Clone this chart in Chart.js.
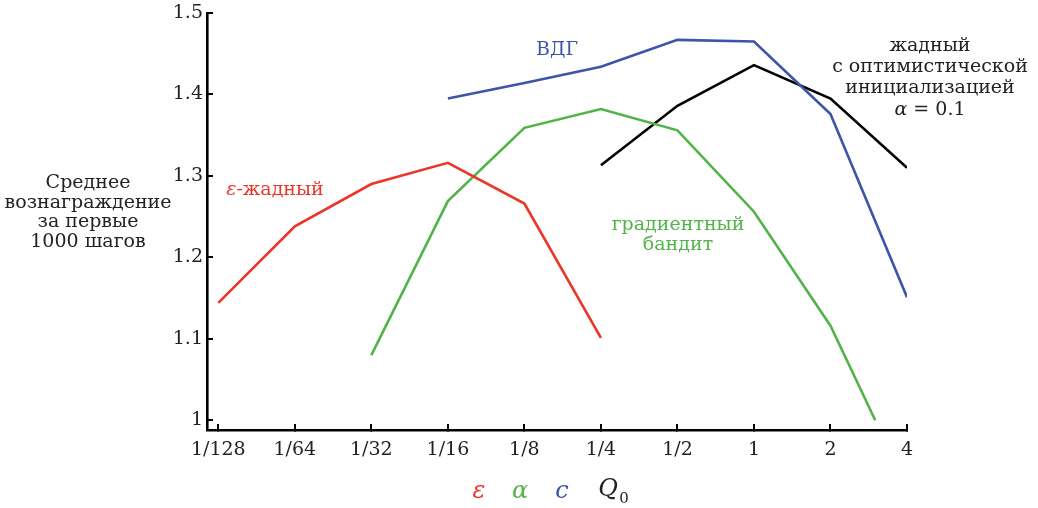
<!DOCTYPE html>
<html>
<head>
<meta charset="utf-8">
<script src="https://cdn.jsdelivr.net/npm/chart.js@4.4.0/dist/chart.umd.min.js"></script>
<style>
  html, body { margin: 0; padding: 0; background: #fff; }
  #wrap { width: 1038px; height: 508px; }
</style>
</head>
<body>
<div id="wrap"><canvas id="chart" width="1038" height="508"></canvas></div>
<script>
// parameter values (epsilon, alpha, c, Q0) on a log2 axis
var xTicks = [1/128, 1/64, 1/32, 1/16, 1/8, 1/4, 1/2, 1, 2, 4];
var xLabels = ['1/128', '1/64', '1/32', '1/16', '1/8', '1/4', '1/2', '1', '2', '4'];
var yTicks = [1, 1.1, 1.2, 1.3, 1.4, 1.5];

var greedyX = [1/128, 1/64, 1/32, 1/16, 1/8, 1/4];
var greedyY = [1.144, 1.238, 1.290, 1.316, 1.266, 1.101];

var gradX = [1/32, 1/16, 1/8, 1/4, 1/2, 1, 2, 3];
var gradY = [1.080, 1.269, 1.359, 1.382, 1.356, 1.256, 1.116, 1.000];

var ucbX = [1/16, 1/8, 1/4, 1/2, 1, 2, 4];
var ucbY = [1.395, 1.414, 1.434, 1.467, 1.465, 1.376, 1.151];

var optX = [1/4, 1/2, 1, 2, 4];
var optY = [1.313, 1.386, 1.436, 1.395, 1.310];

var RED = 'rgb(236,52,40)';
var GREEN = 'rgb(82,180,72)';
var BLUE = 'rgb(62,84,168)';
var SERIF = '"DejaVu Serif", serif';
var FS = 19;

function points(xs, ys) {
    return xs.map(function(x, i) { return { x: Math.log2(x), y: ys[i] }; });
}

function series(label, xs, ys, color) {
    return {
        label: label,
        data: points(xs, ys),
        borderColor: color,
        borderWidth: 2.6,
        pointRadius: 0,
        tension: 0,
        fill: false
    };
}

// draw a run of [text, italic?] pieces centred on x
function drawRuns(ctx, runs, cx, cy, size, color) {
    var total = 0;
    runs.forEach(function(r) {
        ctx.font = (r[1] ? 'italic ' : '') + size + 'px ' + SERIF;
        total += ctx.measureText(r[0]).width;
    });
    var x = cx - total / 2;
    ctx.fillStyle = color;
    ctx.textAlign = 'left';
    ctx.textBaseline = 'middle';
    runs.forEach(function(r) {
        ctx.font = (r[1] ? 'italic ' : '') + size + 'px ' + SERIF;
        ctx.fillText(r[0], x, cy);
        x += ctx.measureText(r[0]).width;
    });
}

function drawLines(ctx, lines, cx, cy, gap, size, color) {
    ctx.font = size + 'px ' + SERIF;
    ctx.fillStyle = color;
    ctx.textAlign = 'center';
    ctx.textBaseline = 'middle';
    lines.forEach(function(t, i) { ctx.fillText(t, cx, cy + i * gap); });
}

var labelsPlugin = {
    id: 'labels',
    afterDraw: function(chart) {
        var ctx = chart.ctx;
        ctx.save();
        drawLines(ctx, ['Среднее', 'вознаграждение', 'за первые', '1000 шагов'], 88, 183, 19.7, FS, '#222');
        drawRuns(ctx, [['ε', true], ['-жадный', false]], 275, 190, FS, RED);
        drawLines(ctx, ['ВДГ'], 557, 50, 0, FS, BLUE);
        drawLines(ctx, ['градиентный', 'бандит'], 678, 225, 20.5, FS, GREEN);
        drawLines(ctx, ['жадный', 'с оптимистической', 'инициализацией'], 930, 46, 21, FS, '#222');
        drawRuns(ctx, [['α', true], [' = 0.1', false]], 930, 110, FS, '#222');

        drawRuns(ctx, [['ε', true]], 479, 492, 24, RED);
        drawRuns(ctx, [['α', true]], 520, 492, 24, GREEN);
        drawRuns(ctx, [['c', true]], 562, 492, 24, BLUE);
        drawRuns(ctx, [['Q', true]], 608, 490, 24, '#222');
        drawRuns(ctx, [['0', false]], 624, 499, 15, '#222');
        ctx.restore();
    }
};

new Chart(document.getElementById('chart'), {
    type: 'line',
    data: {
        datasets: [
            series('ε-жадный', greedyX, greedyY, RED),
            series('градиентный бандит', gradX, gradY, GREEN),
            series('ВДГ', ucbX, ucbY, BLUE),
            series('жадный с оптимистической инициализацией', optX, optY, '#000')
        ]
    },
    options: {
        responsive: false,
        animation: false,
        layout: { padding: { left: 0, right: 131, top: 13, bottom: 0 } },
        plugins: { legend: { display: false }, tooltip: { enabled: false } },
        scales: {
            x: {
                type: 'linear',
                min: -7.148,
                max: 2,
                afterBuildTicks: function(scale) {
                    scale.ticks = xTicks.map(function(v) { return { value: Math.log2(v) }; });
                },
                afterFit: function(scale) {
                    scale.height = 78;
                    scale.paddingLeft = 0;
                    scale.paddingRight = 0;
                },
                grid: { display: true, drawOnChartArea: false, drawTicks: true, tickLength: -6, color: '#000', lineWidth: 2 },
                border: { display: true, color: '#000', width: 2.6 },
                ticks: {
                    autoSkip: false,
                    maxRotation: 0,
                    padding: 15,
                    color: '#222',
                    font: { family: SERIF, size: FS },
                    callback: function(value, index) { return xLabels[index]; }
                }
            },
            y: {
                type: 'linear',
                min: 0.988,
                max: 1.5,
                afterBuildTicks: function(scale) {
                    scale.ticks = yTicks.map(function(v) { return { value: v }; });
                },
                afterFit: function(scale) {
                    scale.width = 207;
                    scale.paddingTop = 0;
                    scale.paddingBottom = 0;
                },
                grid: { display: true, drawOnChartArea: false, drawTicks: true, tickLength: -6, color: '#000', lineWidth: 2 },
                border: { display: true, color: '#000', width: 2.6 },
                ticks: {
                    padding: 10,
                    color: '#222',
                    font: { family: SERIF, size: FS },
                    callback: function(value) { return value === 1 ? '1' : value.toFixed(1); }
                }
            }
        }
    },
    plugins: [labelsPlugin]
});
</script>
</body>
</html>
